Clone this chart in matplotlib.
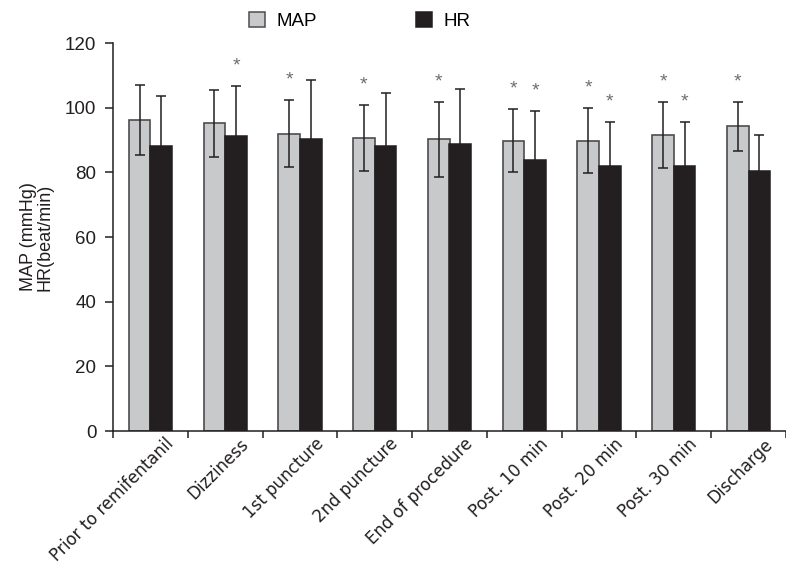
import numpy as np
import matplotlib
matplotlib.use("Agg")
import matplotlib.pyplot as plt
from matplotlib import font_manager
from matplotlib.transforms import ScaledTranslation
from matplotlib.patches import Patch

categories = ["Prior to remifentanil", "Dizziness", "1st puncture", "2nd puncture",
              "End of procedure", "Post. 10 min", "Post. 20 min", "Post. 30 min", "Discharge"]
map_mean = [96.2, 95.2, 92.0, 90.6, 90.2, 89.8, 89.8, 91.6, 94.2]
map_sd = [10.8, 10.4, 10.4, 10.2, 11.5, 9.8, 10.0, 10.2, 7.6]
hr_mean = [88.0, 91.2, 90.3, 88.0, 88.8, 83.9, 81.9, 81.9, 80.4]
hr_sd = [15.6, 15.6, 18.2, 16.4, 17.0, 15.2, 13.6, 13.6, 11.0]
map_star = [False, False, True, True, True, True, True, True, True]
hr_star = [False, True, False, False, False, True, True, True, False]

names = {f.name for f in font_manager.fontManager.ttflist}
main_font = "Liberation Sans" if "Liberation Sans" in names else "DejaVu Sans"
narrow_font = "Liberation Sans Narrow" if "Liberation Sans Narrow" in names else main_font
plt.rcParams["font.family"] = [main_font, "DejaVu Sans"]

fig = plt.figure(figsize=(7.86, 5.66), dpi=100)
ax = fig.add_axes([113 / 786, 135 / 566, 673 / 786, 388 / 566])

x = np.arange(len(categories))
w = 22 / 76
dark = "#231f20"
gray = "#c8c9cb"
err_kw = dict(ecolor=dark, elinewidth=1.1, capsize=3.8, capthick=1.1)

ax.bar(x - w / 2, map_mean, w, color=gray, edgecolor="#4d4d4f", linewidth=1.2,
       yerr=map_sd, error_kw=err_kw, zorder=2)
ax.bar(x + w / 2, hr_mean, w, color=dark, edgecolor=dark, linewidth=1.1,
       yerr=hr_sd, error_kw=err_kw, zorder=2)

for i in range(len(categories)):
    if map_star[i]:
        ax.annotate("*", (x[i] - w / 2, map_mean[i] + map_sd[i]), xytext=(0, 20),
                    textcoords="offset pixels", ha="center", va="center",
                    color="#6d6e70", fontsize=14)
    if hr_star[i]:
        ax.annotate("*", (x[i] + w / 2, hr_mean[i] + hr_sd[i]), xytext=(0, 20),
                    textcoords="offset pixels", ha="center", va="center",
                    color="#6d6e70", fontsize=14)

ax.set_xlim(-0.5, -0.5 + 673 / 76)
ax.set_ylim(0, 120)
ax.set_yticks(np.arange(0, 121, 20))
for lab in ax.get_yticklabels():
    lab.set_fontfamily([narrow_font, "DejaVu Sans"])
ax.tick_params(axis="y", labelsize=13.5, length=6, width=1.1, color=dark,
               labelcolor="#231f20", pad=6)

ax.set_xticks(x)
ax.set_xticklabels(categories, rotation=45, ha="right", va="center",
                   rotation_mode="anchor", fontsize=12, color="#231f20",
                   family="DejaVu Sans")
ax.tick_params(axis="x", which="major", length=0, pad=7.5)
ax.set_xticks(np.arange(len(categories) + 1) - 0.5, minor=True)
ax.tick_params(axis="x", which="minor", length=5, width=1.1, color=dark, direction="out")
offset = ScaledTranslation(21 / 100, 0, fig.dpi_scale_trans)
for lab in ax.get_xticklabels():
    lab.set_transform(lab.get_transform() + offset)

for s in ["top", "right"]:
    ax.spines[s].set_visible(False)
for s in ["left", "bottom"]:
    ax.spines[s].set_linewidth(1.1)
    ax.spines[s].set_color(dark)

ax.set_ylabel("MAP (mmHg)\nHR(beat/min)", fontsize=13, color="#231f20",
              linespacing=0.95, labelpad=8)

handles = [Patch(facecolor=gray, edgecolor="#4d4d4f", linewidth=1.1, label="MAP"),
           Patch(facecolor=dark, edgecolor=dark, linewidth=1.1, label="HR")]
fig.legend(handles=handles, loc="center", bbox_to_anchor=(360 / 786, 1 - 21 / 566),
           ncol=2, frameon=False, fontsize=13.5, handlelength=0.85, handleheight=0.85,
           columnspacing=5.3, handletextpad=0.6)

fig.savefig("out.png", dpi=100)
